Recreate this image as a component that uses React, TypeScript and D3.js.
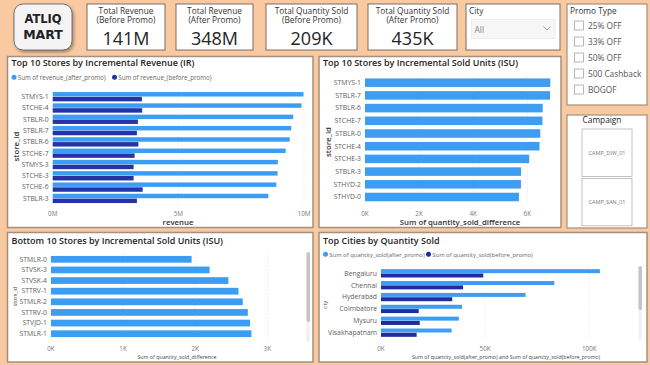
import * as d3 from 'd3'

// KPI cards
const kpiTitles = [
  ['Total Revenue', '(Before Promo)'],
  ['Total Revenue', '(After Promo)'],
  ['Total Quantity Sold', '(Before Promo)'],
  ['Total Quantity Sold', '(After Promo)'],
]
const kpiValues = ['141M', '348M', '209K', '435K']

// Top 10 stores by incremental revenue
const irStores = ['STMYS-1', 'STCHE-4', 'STBLR-0', 'STBLR-7', 'STBLR-6', 'STCHE-7', 'STMYS-3', 'STCHE-3', 'STCHE-6', 'STBLR-3']
const irAfter = [9.98e6, 9.9e6, 9.57e6, 9.49e6, 9.43e6, 9.27e6, 8.96e6, 8.95e6, 8.9e6, 8.58e6]
const irBefore = [3.55e6, 3.56e6, 3.39e6, 3.35e6, 3.41e6, 3.26e6, 3.22e6, 3.22e6, 3.58e6, 3.35e6]
const irTicks = [0, 5e6, 10e6]

// Top 10 stores by incremental sold units
const isuTopStores = ['STMYS-1', 'STBLR-7', 'STBLR-6', 'STCHE-7', 'STBLR-0', 'STCHE-4', 'STCHE-3', 'STBLR-3', 'STHYD-2', 'STHYD-0']
const isuTopValues = [6850, 6840, 6570, 6560, 6480, 6450, 6070, 5770, 5765, 5690]
const isuTopTicks = [0, 2000, 4000, 6000]

// Bottom stores (visible part of the scrolled list)
const isuBottomStores = ['STMLR-0', 'STVSK-3', 'STVSK-4', 'STTRV-1', 'STMLR-2', 'STTRV-0', 'STVJD-1', 'STMLR-1']
const isuBottomValues = [1950, 2200, 2460, 2600, 2660, 2730, 2760, 2780]
const isuBottomTicks = [0, 1000, 2000, 3000]

// Top cities by quantity sold
const cities = ['Bengaluru', 'Chennai', 'Hyderabad', 'Coimbatore', 'Mysuru', 'Visakhapatnam']
const cityAfter = [105100, 83200, 69400, 38900, 37400, 33900]
const cityBefore = [49100, 39400, 34200, 18100, 18600, 17100]
const cityTicks = [0, 50000, 100000]

const promoTypes = ['25% OFF', '33% OFF', '50% OFF', '500 Cashback', 'BOGOF']
const campaigns = ['CAMP_DIW_01', 'CAMP_SAN_01']

const BG = '#F9C9A1'
const LIGHT = '#3D9DF3'
const DARK = '#2633A6'
const FONT = "'Open Sans', 'Noto Sans', sans-serif"
const fmtM = (v: number) => `${v / 1e6}M`
const fmtK = (v: number) => `${v / 1000}K`

type Series = { values: number[]; color: string }

function HBars(props: {
  box: [number, number, number, number]
  title: string
  titleY: number
  cats: string[]
  series: Series[]
  legend?: { label: string; x: number }[]
  legendY?: number
  legendSize?: number
  xDomain: [number, number]
  xRange: [number, number]
  yRange: [number, number]
  pad: number
  ticks: number[]
  fmt: (v: number) => string
  tickY: number
  xTitle: string
  xTitleX: number
  xTitleY: number
  yTitle: string
  yTitleX: number
  yTitleY: number
  big: boolean
  scroll?: [number, number, number, number]
}) {
  const [bx, by, bw, bh] = props.box
  const x = d3.scaleLinear().domain(props.xDomain).range(props.xRange)
  const y = d3.scaleBand().domain(props.cats).range(props.yRange).paddingInner(props.pad).paddingOuter(props.pad / 2)
  const inner = d3.scaleBand().domain(props.series.map((_, i) => String(i))).range([0, y.bandwidth()]).paddingInner(0.08)
  const axisSize = props.big ? 7.8 : 5.3
  return (
    <g>
      <rect x={bx} y={by} width={bw} height={bh} fill="#fff" stroke="#A3907F" strokeWidth={1.5} />
      <text x={bx + 4} y={props.titleY} fontSize={9} fontWeight={600} fill="#252423" fontFamily={FONT}>{props.title}</text>
      {props.legend && props.legend.map((l, i) => (
        <g key={l.label}>
          <circle cx={l.x} cy={props.legendY! - 2.3} r={2.5} fill={props.series[i].color} />
          <text x={l.x + 3.8} y={props.legendY} fontSize={props.legendSize} fill="#666" fontFamily={FONT}>{l.label}</text>
        </g>
      ))}
      {props.ticks.slice(1).map(t => (
        <line key={t} x1={x(t)} x2={x(t)} y1={props.yRange[0]} y2={props.yRange[1]} stroke="#D8D8D8" strokeWidth={0.7} strokeDasharray="1,2" />
      ))}
      {props.cats.map((c, ci) => (
        <g key={c}>
          <text x={props.xRange[0] - 4} y={y(c)! + y.bandwidth() / 2 + 2.3} fontSize={6.8} fill="#605E5C" textAnchor="end" fontFamily={FONT}>{c}</text>
          {props.series.map((s, si) => (
            <rect key={si} x={x(0)} y={y(c)! + inner(String(si))!} width={x(s.values[ci]) - x(0)} height={inner.bandwidth()} fill={s.color} />
          ))}
        </g>
      ))}
      {props.ticks.map(t => (
        <text key={t} x={x(t)} y={props.tickY} fontSize={6.3} fill="#777" textAnchor="middle" fontFamily={FONT}>{props.fmt(t)}</text>
      ))}
      <text x={props.xTitleX} y={props.xTitleY} fontSize={axisSize} fontWeight={props.big ? 600 : 400} fill={props.big ? '#333' : '#444'} textAnchor="middle" fontFamily={FONT}>{props.xTitle}</text>
      <text transform={`translate(${props.yTitleX},${props.yTitleY}) rotate(-90)`} fontSize={axisSize} fontWeight={props.big ? 600 : 400} fill={props.big ? '#333' : '#444'} textAnchor="middle" fontFamily={FONT}>{props.yTitle}</text>
      {props.scroll && (
        <g>
          <rect x={props.scroll[0]} y={props.scroll[1]} width={3.5} height={props.scroll[3] - props.scroll[1]} rx={1.7} fill="#F1F1F1" />
          <rect x={props.scroll[0]} y={props.scroll[1]} width={3.5} height={props.scroll[2] - props.scroll[1]} rx={1.7} fill="#C4C4C4" />
        </g>
      )}
    </g>
  )
}

export default function App() {
  const cardX = [[87, 165], [176, 253], [266, 357], [368, 457]]
  return (
    <svg width={650} height={365} style={{ position: 'absolute', left: 0, top: 0 }} fontFamily={FONT}>
      <defs>
        <filter id="sh" x="-20%" y="-20%" width="150%" height="150%">
          <feDropShadow dx={1.5} dy={2} stdDeviation={1.5} floodColor="#000" floodOpacity={0.35} />
        </filter>
      </defs>
      <rect width={650} height={365} fill={BG} />

      {/* logo */}
      <rect x={14} y={4} width={58} height={46} rx={9} fill="#F4F4F4" stroke="#555" strokeWidth={0.8} filter="url(#sh)" />
      <text x={43} y={23} fontSize={11.5} fontWeight={700} fill="#222" textAnchor="middle" fontFamily="'DejaVu Sans', sans-serif">ATLIQ</text>
      <text x={43} y={39} fontSize={12.5} fontWeight={700} fill="#222" textAnchor="middle" fontFamily="'DejaVu Sans', sans-serif">MART</text>

      {/* KPI cards */}
      {kpiTitles.map((t, i) => {
        const [x0, x1] = cardX[i]
        const cx = (x0 + x1) / 2
        return (
          <g key={i}>
            <rect x={x0} y={4} width={x1 - x0} height={46} fill="#fff" stroke="#7D6E63" strokeWidth={1} />
            <text x={cx} y={13.5} fontSize={8.3} fill="#333" textAnchor="middle">{t[0]}</text>
            <text x={cx} y={23} fontSize={8.3} fill="#333" textAnchor="middle">{t[1]}</text>
            <text x={cx} y={45} fontSize={18} fill="#252423" textAnchor="middle">{kpiValues[i]}</text>
          </g>
        )
      })}

      {/* City slicer */}
      <rect x={466} y={4} width={94} height={46} fill="#fff" stroke="#7D6E63" strokeWidth={1} />
      <text x={469} y={13.5} fontSize={8.3} fill="#333">City</text>
      <rect x={471.5} y={19.5} width={83.5} height={19} fill="#F6F6F6" stroke="#E4E4E4" strokeWidth={0.6} />
      <text x={474.5} y={32.5} fontSize={8.5} fill="#888">All</text>
      <path d="M543.5,26.5 L547,30 L550.5,26.5" fill="none" stroke="#888" strokeWidth={0.8} />

      {/* Promo type slicer */}
      <rect x={567} y={4} width={80} height={101} fill="#fff" stroke="#A3907F" strokeWidth={1.2} />
      <text x={570} y={13.5} fontSize={8.3} fill="#333">Promo Type</text>
      {promoTypes.map((p, i) => (
        <g key={p}>
          <rect x={574.5} y={21 + i * 16} width={9} height={9} fill="#fff" stroke="#999" strokeWidth={0.7} />
          <text x={588} y={28.8 + i * 16} fontSize={8.3} fill="#555">{p}</text>
        </g>
      ))}

      {/* Campaign */}
      <rect x={567} y={115} width={80} height={113} fill="#fff" stroke="#A3907F" strokeWidth={1.2} />
      <text x={602} y={123} fontSize={8.3} fill="#252423" textAnchor="middle">Campaign</text>
      {campaigns.map((c, i) => (
        <g key={c}>
          <rect x={582} y={129 + i * 49.3} width={50} height={47.5} fill="#fff" stroke="#AAA" strokeWidth={0.7} />
          <text x={607} y={155 + i * 49.3} fontSize={5.5} fill="#777" textAnchor="middle">{c}</text>
        </g>
      ))}

      <HBars
        box={[7.5, 56.5, 305.5, 171]}
        title="Top 10 Stores by Incremental Revenue (IR)"
        titleY={65.5}
        cats={irStores}
        series={[{ values: irAfter, color: LIGHT }, { values: irBefore, color: DARK }]}
        legend={[{ label: 'Sum of revenue_(after_promo)', x: 14 }, { label: 'Sum of revenue_(before_promo)', x: 114.5 }]}
        legendY={79.5}
        legendSize={6.2}
        xDomain={[0, 10e6]}
        xRange={[52.7, 304]}
        yRange={[91.05, 204.05]}
        pad={0.177}
        ticks={irTicks}
        fmt={fmtM}
        tickY={216}
        xTitle="revenue"
        xTitleX={178}
        xTitleY={224.5}
        yTitle="store_id"
        yTitleX={19}
        yTitleY={146.5}
        big
      />
      <HBars
        box={[319, 56.5, 242, 171]}
        title="Top 10 Stores by Incremental Sold Units (ISU)"
        titleY={65.5}
        cats={isuTopStores}
        series={[{ values: isuTopValues, color: LIGHT }]}
        xDomain={[0, 6000]}
        xRange={[365, 527.3]}
        yRange={[76.35, 203.35]}
        pad={0.27}
        ticks={isuTopTicks}
        fmt={fmtK}
        tickY={216}
        xTitle="Sum of quantity_sold_difference"
        xTitleX={460}
        xTitleY={224.5}
        yTitle="store_id"
        yTitleX={330.5}
        yTitleY={142}
        big
      />
      <HBars
        box={[7.5, 232.5, 305.5, 129.5]}
        title="Bottom 10 Stores by Incremental Sold Units (ISU)"
        titleY={243.5}
        cats={isuBottomStores}
        series={[{ values: isuBottomValues, color: LIGHT }]}
        xDomain={[0, 3000]}
        xRange={[51, 267.3]}
        yRange={[254, 339]}
        pad={0.31}
        ticks={isuBottomTicks}
        fmt={fmtK}
        tickY={350.5}
        xTitle="Sum of quantity_sold_difference"
        xTitleX={177}
        xTitleY={358.5}
        yTitle="store_id"
        yTitleX={17}
        yTitleY={296.5}
        big={false}
        scroll={[306.5, 252, 322, 342]}
      />
      <HBars
        box={[319, 232.5, 328, 129.5]}
        title="Top Cities by Quantity Sold"
        titleY={243.5}
        cats={cities}
        series={[{ values: cityAfter, color: LIGHT }, { values: cityBefore, color: '#1E2C9E' }]}
        legend={[{ label: 'Sum of quantity_sold(after_promo)', x: 325.5 }, { label: 'Sum of quantity_sold(before_promo)', x: 428.5 }]}
        legendY={256.5}
        legendSize={5.9}
        xDomain={[0, 100000]}
        xRange={[381, 589.3]}
        yRange={[267.4, 338.6]}
        pad={0.3}
        ticks={cityTicks}
        fmt={fmtK}
        tickY={350.5}
        xTitle="Sum of quantity_sold(after_promo) and Sum of quantity_sold(before_promo)"
        xTitleX={506}
        xTitleY={358.5}
        yTitle="city"
        yTitleX={327}
        yTitleY={305}
        big={false}
        scroll={[638.5, 266, 310, 340]}
      />
    </svg>
  )
}
